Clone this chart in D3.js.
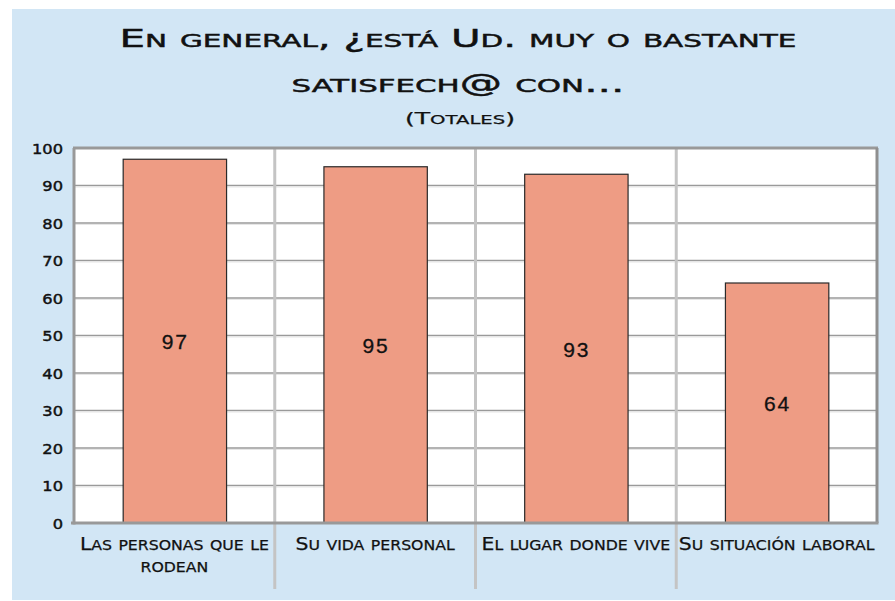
<!DOCTYPE html>
<html><head><meta charset="utf-8">
<script src="https://cdn.jsdelivr.net/npm/d3@7"></script>
<style>
html,body{margin:0;padding:0;background:#fff;}
svg{display:block;}
</style></head>
<body>
<svg id="chart" width="895" height="601"></svg>
<script>
const categories = [["Las personas que le","rodean"],["Su vida personal"],["El lugar donde vive"],["Su situación laboral"]];
const values = [97, 95, 93, 64];
const yTicks = [0,10,20,30,40,50,60,70,80,90,100];
const titleLines = ["En general, ¿está Ud. muy o bastante","satisfech@ con..."];
const subtitle = "(Totales)";

const svg = d3.select("#chart");
const W = 895, H = 601;
const m = {left:74, right:877, top:148, bottom:523};
const FONT = "DejaVu Sans, sans-serif";

svg.append("rect").attr("x",12).attr("y",9).attr("width",W-12).attr("height",H-9-1).attr("fill","#d2e6f5");

const x = d3.scaleBand().domain(d3.range(categories.length)).range([m.left, m.right]).padding(0);
const y = d3.scaleLinear().domain([0,100]).range([m.bottom, m.top]);

// small caps helper: lowercase letters -> uppercase at reduced size
function smallCaps(textSel, str, big, small){
  const runs = [];
  for (const ch of str){
    const isLower = ch !== ch.toUpperCase();
    const size = isLower ? small : big;
    const c = isLower ? ch.toUpperCase() : ch;
    if (runs.length && runs[runs.length-1].size === size) runs[runs.length-1].t += c;
    else runs.push({t:c, size});
  }
  runs.forEach(r => textSel.append("tspan").attr("font-size", r.size).text(r.t));
}
function stretch(sel, k){
  sel.each(function(){
    const w = this.getComputedTextLength();
    d3.select(this).attr("textLength", w*k).attr("lengthAdjust","spacingAndGlyphs");
  });
}
function fitTo(node, target){
  d3.select(node).attr("textLength", target).attr("lengthAdjust","spacingAndGlyphs");
}

// plot background
svg.append("rect").attr("x",m.left).attr("y",m.top).attr("width",m.right-m.left).attr("height",m.bottom-m.top).attr("fill","#fff");

// gridlines
const inner = yTicks.filter(t=>t>0&&t<100);
svg.append("g").selectAll("line").data(inner).join("line")
  .attr("x1",m.left).attr("x2",m.right).attr("y1",d=>y(d)).attr("y2",d=>y(d))
  .attr("stroke","#9a9a9a").attr("stroke-width",1.5);
svg.append("g").selectAll("line").data(inner).join("line")
  .attr("x1",m.left).attr("x2",m.right).attr("y1",d=>y(d)+1.5).attr("y2",d=>y(d)+1.5)
  .attr("stroke","#e6e6e6").attr("stroke-width",1);

// dividers
svg.append("g").selectAll("line").data(d3.range(1,categories.length)).join("line")
  .attr("x1",d=>x(d)).attr("x2",d=>x(d)).attr("y1",m.top).attr("y2",589)
  .attr("stroke","#c4c4c4").attr("stroke-width",3);

// bars
const bw = x.bandwidth()*0.515;
svg.append("g").selectAll("rect").data(values).join("rect")
  .attr("x",(d,i)=>x(i)+x.bandwidth()/2-bw/2+0.5)
  .attr("y",d=>y(d))
  .attr("width",bw).attr("height",d=>y(0)-y(d))
  .attr("fill","#ee9c84").attr("stroke","#2a2a2a").attr("stroke-width",1.2);

// value labels
svg.append("g").selectAll("text").data(values).join("text")
  .attr("x",(d,i)=>x(i)+x.bandwidth()/2+1)
  .attr("y",d=>(y(d)+y(0))/2+8)
  .attr("text-anchor","middle")
  .attr("font-family","Liberation Sans, Arial, sans-serif")
  .attr("font-size",21).attr("letter-spacing",2).attr("fill","#111")
  .attr("stroke","#111").attr("stroke-width",0.3)
  .text(d=>d);

// border
svg.append("line").attr("x1",m.left-1).attr("x2",m.right+1).attr("y1",m.top).attr("y2",m.top).attr("stroke","#999").attr("stroke-width",3);
svg.append("line").attr("x1",m.right).attr("x2",m.right).attr("y1",m.top).attr("y2",m.bottom).attr("stroke","#8f8f8f").attr("stroke-width",3);
svg.append("line").attr("x1",m.left).attr("x2",m.left).attr("y1",m.top).attr("y2",m.bottom+1.5).attr("stroke","#999").attr("stroke-width",3);
svg.append("line").attr("x1",m.left-3).attr("x2",m.right+1.5).attr("y1",m.bottom).attr("y2",m.bottom).attr("stroke","#999").attr("stroke-width",3);

// y tick labels
const yl = svg.append("g").selectAll("text").data(yTicks).join("text")
  .attr("x",63).attr("y",d=>y(d)+5.5)
  .attr("text-anchor","end")
  .attr("font-family",FONT).attr("font-size",14.5)
  .attr("fill","#111").attr("stroke","#111").attr("stroke-width",0.45)
  .text(d=>d);
stretch(yl, 1.12);

// category labels
const catTexts = [];
categories.forEach((lines,i)=>{
  lines.forEach((ln,j)=>{
    const t = svg.append("text")
      .attr("x",x(i)+x.bandwidth()/2).attr("y",550+j*22)
      .attr("text-anchor","middle")
      .attr("font-family",FONT).attr("fill","#111")
      .attr("stroke","#111").attr("stroke-width",0.25);
    smallCaps(t, ln, 17.5, 13.5);
    catTexts.push(t.node());
  });
});
{
  const w0 = catTexts[0].getComputedTextLength();
  stretch(d3.selectAll(catTexts), 189/w0);
}

// title
const titleTargets = [677, 333];
titleLines.forEach((ln,i)=>{
  const t = svg.append("text").attr("x",458).attr("y",47+i*45)
    .attr("text-anchor","middle").attr("font-family",FONT).attr("fill","#111")
    .attr("stroke","#111").attr("stroke-width",0.45);
  smallCaps(t, ln, 24, 17.5);
  fitTo(t.node(), titleTargets[i]);
});
const st = svg.append("text").attr("x",460).attr("y",124).attr("text-anchor","middle")
  .attr("font-family",FONT).attr("fill","#111").attr("stroke","#111").attr("stroke-width",0.25);
smallCaps(st, subtitle, 16, 12.5);
fitTo(st.node(), 110);
</script>
</body></html>
